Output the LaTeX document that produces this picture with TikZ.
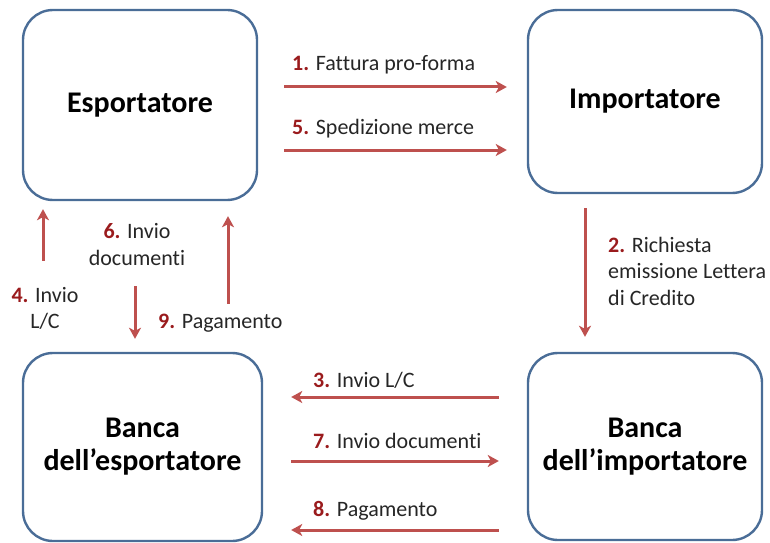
\documentclass[tikz,border=0pt]{standalone}
\usepackage{fontspec}
\setmainfont{Carlito}[Ligatures=NoCommon]
\usepackage{xcolor}
\usetikzlibrary{positioning,arrows.meta}
\definecolor{boxblue}{HTML}{4A6D97}
\definecolor{flowred}{HTML}{BE504E}
\definecolor{numred}{HTML}{9A1B1D}
\newcommand{\nr}[1]{\textbf{\color{numred}#1.}}

\begin{document}
\begin{tikzpicture}[x=1pt,y=1pt,
  party/.style={draw=boxblue,line width=2.4pt,rounded corners=30pt,fill=white,align=center,
    font=\fontsize{30}{33}\selectfont\bfseries,inner sep=0pt},
  flow/.style={flowred,line width=3pt,-{Stealth[length=11pt,width=12pt,inset=3pt]}},
  lbl/.style={font=\fontsize{22}{26.5}\selectfont,inner sep=0pt,text=black!85}]
  \useasboundingbox (0,0) rectangle (770,542);
  % the four parties
  \node[party,minimum width=234pt,minimum height=190pt] (esp) at (140,437) {Esportatore};
  \node[party,minimum width=234pt,minimum height=183pt] (imp) at (645,440.5) {Importatore};
  \node[party,minimum width=239pt,minimum height=188pt] (besp) at (142.5,95) {Banca\\dell'esportatore};
  \node[party,minimum width=234pt,minimum height=187pt] (bimp) at (645,95.5) {Banca\\dell'importatore};
  % flows
  \draw[flow] ([shift={(26,18)}]esp.east) -- ([shift={(-20,14.5)}]imp.west);
  \draw[flow] ([shift={(26,-45)}]esp.east) -- ([shift={(-20,-48.5)}]imp.west);
  \draw[flow] ([shift={(-60,-14)}]imp.south) -- ([shift={(-60,15)}]bimp.north);
  \draw[flow] ([shift={(-28,49.5)}]bimp.west) -- ([shift={(28,50)}]besp.east);
  \draw[flow] ([shift={(-99.5,91)}]besp.north) -- ([shift={(-97,-8)}]esp.south);
  \draw[flow] ([shift={(-5,-85)}]esp.south) -- ([shift={(-7.5,13)}]besp.north);
  \draw[flow] ([shift={(28,-14)}]besp.east) -- ([shift={(-28,-14.5)}]bimp.west);
  \draw[flow] ([shift={(-28,-83.5)}]bimp.west) -- ([shift={(28,-83)}]besp.east);
  \draw[flow] ([shift={(85.5,48)}]besp.north) -- ([shift={(88,-15)}]esp.south);
  % labels
  \node[lbl,anchor=west] (l1) at (292,477) {\nr{1} Fattura pro-forma};
  \node[lbl,anchor=west] (l5) at (292,413) {\nr{5} Spedizione merce};
  \node[lbl,anchor=west,align=left] (l2) at (608,271) {\nr{2} Richiesta\\emissione Lettera\\di Credito};
  \node[lbl,align=center] (l6) at (137,297.5) {\nr{6} Invio\\documenti};
  \node[lbl,align=center] (l4) at (45,233.5) {\nr{4} Invio\\L/C};
  \node[lbl,anchor=west] (l9) at (158,219) {\nr{9} Pagamento};
  \node[lbl,anchor=west] (l3) at (313,162) {\nr{3} Invio L/C};
  \node[lbl,anchor=west] (l7) at (313,101) {\nr{7} Invio documenti};
  \node[lbl,anchor=west] (l8) at (313,31) {\nr{8} Pagamento};
\end{tikzpicture}
\end{document}
